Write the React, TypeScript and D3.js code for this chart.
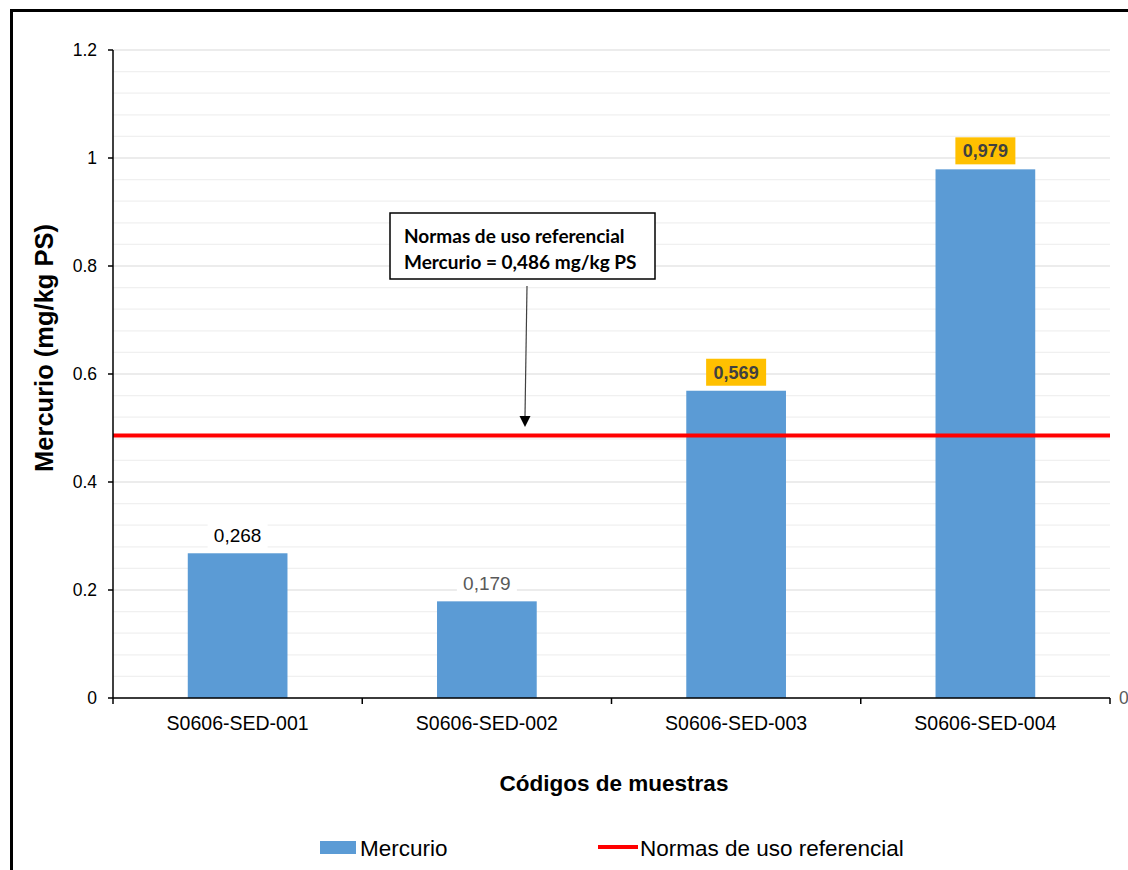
import React from "react";
import * as d3 from "d3";

const categories = ["S0606-SED-001", "S0606-SED-002", "S0606-SED-003", "S0606-SED-004"];
const mercurio = [0.268, 0.179, 0.569, 0.979];
const labels = ["0,268", "0,179", "0,569", "0,979"];
const highlighted = [false, false, true, true];
const normaValue = 0.486;
const yTicks = [0, 0.2, 0.4, 0.6, 0.8, 1, 1.2];
const yTickLabels = ["0", "0.2", "0.4", "0.6", "0.8", "1", "1.2"];

const W = 1128, H = 870;
const left = 113, right = 1110, top = 50, bottom = 698;
const font = "'Liberation Sans', Arial, sans-serif";

export default function App() {
  const x = d3.scaleBand<string>().domain(categories).range([left, right]).paddingInner(0.6).paddingOuter(0.3);
  const xb = d3.scaleBand<string>().domain(categories).range([left, right]);
  const y = d3.scaleLinear().domain([0, 1.2]).range([bottom, top]);
  const minor = d3.range(0, 1.2001, 0.04);
  const ny = y(normaValue);
  return (
    <svg width={W} height={H} style={{ position: "absolute", left: 0, top: 0, background: "#fff" }}>
      <rect x={0} y={0} width={W} height={H} fill="#fff" />
      {/* outer border */}
      <rect x={11.5} y={10.5} width={W + 20} height={H + 20} fill="none" stroke="#000" strokeWidth={3} />
      {/* gridlines */}
      {minor.map((v, i) => (
        <line key={"m" + i} x1={left} x2={right} y1={y(v)} y2={y(v)} stroke={i % 5 === 0 ? "#d9d9d9" : "#f0f0f0"} strokeWidth={1.2} />
      ))}
      {/* bars */}
      {categories.map((c, i) => (
        <rect key={c} x={x(c)} y={y(mercurio[i])} width={x.bandwidth()} height={bottom - y(mercurio[i])} fill="#5b9bd5" />
      ))}
      {/* norm line */}
      <line x1={left} x2={right} y1={ny} y2={ny} stroke="#ff0000" strokeWidth={4} />
      {/* y axis */}
      <line x1={left} x2={left} y1={top} y2={bottom} stroke="#000" strokeWidth={1.5} />
      {yTicks.map((v, i) => (
        <g key={"yt" + i}>
          <line x1={left - 5} x2={left} y1={y(v)} y2={y(v)} stroke="#000" strokeWidth={1.5} />
          <text x={97} y={y(v)} textAnchor="end" dominantBaseline="central" fontFamily={font} fontSize={17.5} fill="#000">{yTickLabels[i]}</text>
        </g>
      ))}
      {/* x axis */}
      <line x1={left} x2={right} y1={bottom} y2={bottom} stroke="#000" strokeWidth={1.5} />
      {categories.map((c) => (
        <line key={"xt" + c} x1={xb(c)} x2={xb(c)} y1={bottom} y2={bottom + 6} stroke="#000" strokeWidth={1.5} />
      ))}
      <line x1={right} x2={right} y1={bottom} y2={bottom + 6} stroke="#000" strokeWidth={1.5} />
      {categories.map((c) => (
        <text key={"xl" + c} x={xb(c)! + xb.bandwidth() / 2} y={723} textAnchor="middle" dominantBaseline="central" fontFamily={font} fontSize={19.5} fill="#000">{c}</text>
      ))}
      <text x={1119} y={bottom} dominantBaseline="central" fontFamily={font} fontSize={17.5} fill="#595959">0</text>
      {/* data labels */}
      {categories.map((c, i) => {
        const cx = x(c)! + x.bandwidth() / 2;
        const ly = y(mercurio[i]) - 19;
        if (highlighted[i]) {
          return (
            <g key={"dl" + c}>
              <rect x={cx - 30} y={ly - 13} width={60} height={27} fill="#ffc000" />
              <text x={cx} y={ly + 1} textAnchor="middle" dominantBaseline="central" fontFamily={font} fontSize={18} fontWeight="bold" fill="#404040">{labels[i]}</text>
            </g>
          );
        }
        return (
          <g key={"dl" + c}>
            <rect x={cx - 30} y={ly - 13} width={60} height={27} fill="#fff" />
            <text x={cx} y={ly + 1} textAnchor="middle" dominantBaseline="central" fontFamily={font} fontSize={19} fill={i === 0 ? "#000" : "#595959"}>{labels[i]}</text>
          </g>
        );
      })}
      {/* annotation */}
      <rect x={390} y={213} width={265} height={66} fill="#fff" stroke="#000" strokeWidth={1.5} />
      <text x={404} y={235} dominantBaseline="central" fontFamily="Lato, 'Open Sans', sans-serif" fontSize={19} fontWeight="bold" fill="#000">Normas de uso referencial</text>
      <text x={404} y={261} dominantBaseline="central" fontFamily="Lato, 'Open Sans', sans-serif" fontSize={19} fontWeight="bold" fill="#000">Mercurio = 0,486 mg/kg PS</text>
      <line x1={527} x2={525} y1={286} y2={416} stroke="#404040" strokeWidth={1.2} />
      <path d={`M519.5,416 L530.5,416 L525,427 Z`} fill="#000" />
      {/* axis titles */}
      <text transform={`translate(44,348) rotate(-90)`} textAnchor="middle" dominantBaseline="central" fontFamily={font} fontSize={25.5} fontWeight="bold" fill="#000">Mercurio (mg/kg PS)</text>
      <text x={614} y={783} textAnchor="middle" dominantBaseline="central" fontFamily={font} fontSize={22.5} fontWeight="bold" fill="#000">Códigos de muestras</text>
      {/* legend */}
      <rect x={320} y={841} width={36} height={13} fill="#5b9bd5" />
      <text x={360} y={848} dominantBaseline="central" fontFamily={font} fontSize={22.5} fill="#000">Mercurio</text>
      <line x1={598} x2={638} y1={847} y2={847} stroke="#ff0000" strokeWidth={4} />
      <text x={640} y={848} dominantBaseline="central" fontFamily={font} fontSize={22.5} fill="#000">Normas de uso referencial</text>
    </svg>
  );
}
